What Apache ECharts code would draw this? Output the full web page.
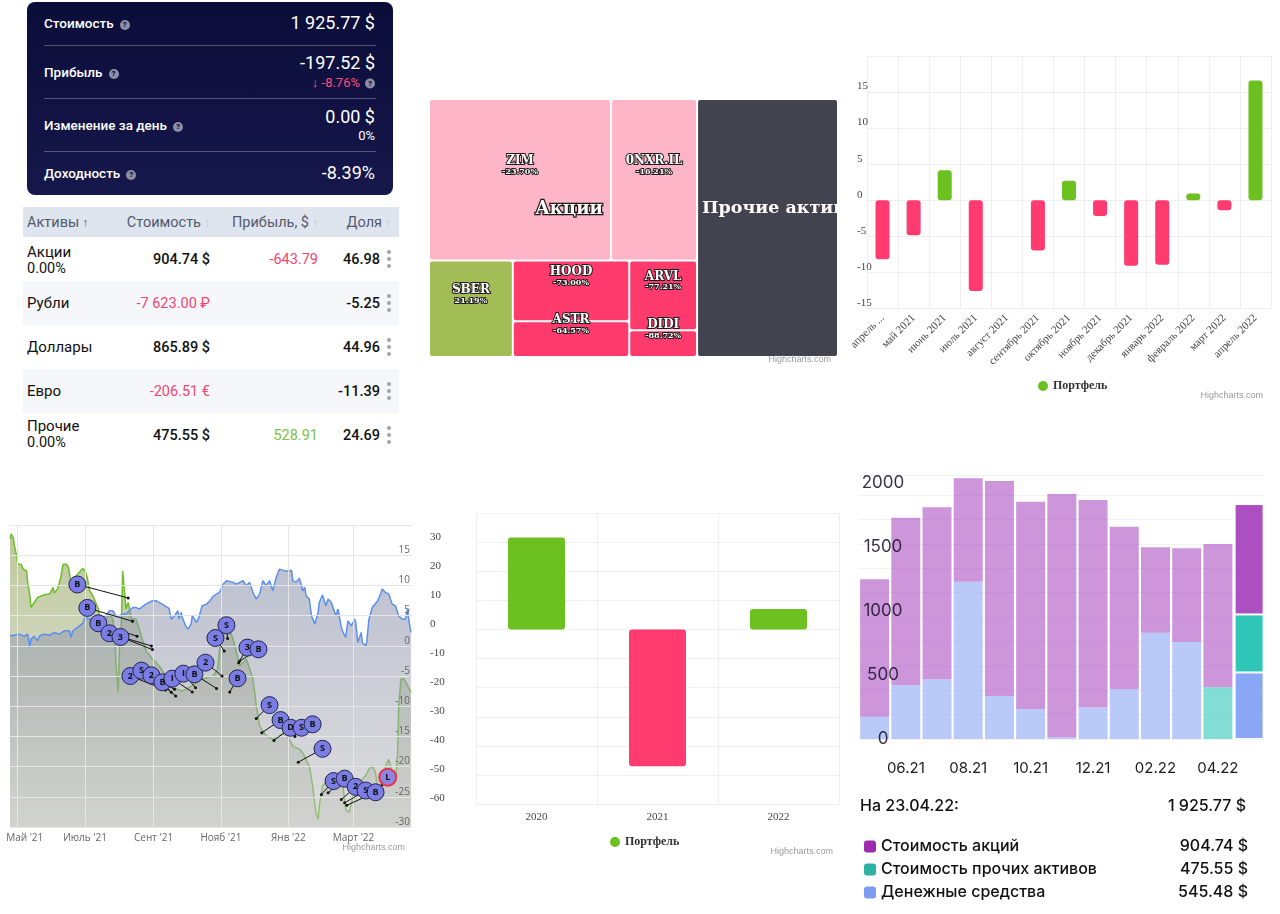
<!DOCTYPE html>
<html>
<head>
<meta charset="utf-8">
<script src="https://cdn.jsdelivr.net/npm/echarts@6/dist/echarts.min.js"></script>
<style>
html,body{margin:0;padding:0;background:#fff;width:1280px;height:914px;overflow:hidden;font-family:Roboto,"Noto Sans",sans-serif;}
#chart{position:absolute;left:0;top:0;width:1280px;height:914px;z-index:2;}
.card{position:absolute;left:27px;top:2px;width:366px;height:193px;border-radius:8px;background:linear-gradient(180deg,#0b0d39 0%,#16174b 100%);color:#fff;z-index:1;}
.card .lbl{position:absolute;left:17px;transform:translateY(-50%);font-size:13.5px;font-weight:500;line-height:16px;white-space:nowrap;}
.card .val{position:absolute;right:18px;transform:translateY(-50%);font-size:18px;line-height:20px;white-space:nowrap;}
.card .sub{position:absolute;right:18px;transform:translateY(-50%);font-size:13px;line-height:15px;white-space:nowrap;}
.card .sep{position:absolute;left:17px;right:17px;height:1px;background:rgba(255,255,255,0.28);}
.q{display:inline-block;width:10px;height:10px;border-radius:50%;background:#8c8fa6;color:#12143f;font-size:8px;font-weight:900;line-height:10px;text-align:center;margin-left:6px;vertical-align:1px;font-style:normal;}
.pink{color:#ff4d7f;}
.tbl{position:absolute;left:0;top:0;width:420px;height:470px;z-index:1;color:#111;}
.thead{position:absolute;left:23px;top:207px;width:376px;height:30px;background:#dfe5ef;}
.shade{position:absolute;left:23px;width:376px;height:44px;background:#f6f7fa;}
.h{position:absolute;top:222px;transform:translateY(-50%);font-size:14.5px;color:#535a6c;white-space:nowrap;}
.arr{color:#c3c9d4;font-size:12px;margin-left:3px;}
.arr.on{color:#535a6c;}
.nm{position:absolute;left:27px;transform:translateY(-50%);font-size:15px;line-height:17px;white-space:nowrap;}
.num{position:absolute;transform:translateY(-50%);font-size:14.5px;font-weight:500;white-space:nowrap;text-align:right;}
.neg{color:#f4456f;font-weight:400;}
.pos{color:#7cc242;font-weight:400;}
.keb{position:absolute;left:387px;width:4px;}
.keb i{display:block;width:4px;height:4px;border-radius:50%;background:#9fa4ae;margin-bottom:3px;}
</style>
</head>
<body>
<div class="card">
  <div class="lbl" style="top:21px">Стоимость<i class="q">?</i></div>
  <div class="val" style="top:21px">1 925.77 $</div>
  <div class="sep" style="top:43px"></div>
  <div class="lbl" style="top:70px">Прибыль<i class="q">?</i></div>
  <div class="val" style="top:61px">-197.52 $</div>
  <div class="sub" style="top:80px"><span class="pink">↓ -8.76%</span><i class="q" style="margin-left:5px">?</i></div>
  <div class="sep" style="top:96px"></div>
  <div class="lbl" style="top:123px">Изменение за день<i class="q">?</i></div>
  <div class="val" style="top:115px">0.00 $</div>
  <div class="sub" style="top:133px">0%</div>
  <div class="sep" style="top:149px"></div>
  <div class="lbl" style="top:171px">Доходность<i class="q">?</i></div>
  <div class="val" style="top:171px">-8.39%</div>
</div>

<div class="tbl">
  <div class="thead"></div>
  <div class="shade" style="top:281px"></div>
  <div class="shade" style="top:369px"></div>
  <div class="h" style="left:27px">Активы<span class="arr on">↑</span></div>
  <div class="h" style="right:210px">Стоимость<span class="arr">↑</span></div>
  <div class="h" style="right:102px">Прибыль, $<span class="arr">↑</span></div>
  <div class="h" style="right:29px">Доля<span class="arr">↑</span></div>

  <div class="nm" style="top:252px">Акции</div>
  <div class="nm" style="top:268px;font-size:14.5px">0.00%</div>
  <div class="num" style="top:259px;right:210px">904.74 $</div>
  <div class="num neg" style="top:259px;right:102px">-643.79</div>
  <div class="num" style="top:259px;right:40px">46.98</div>
  <div class="keb" style="top:250px"><i></i><i></i><i></i></div>

  <div class="nm" style="top:303px">Рубли</div>
  <div class="num neg" style="top:303px;right:210px">-7 623.00 ₽</div>
  <div class="num" style="top:303px;right:40px">-5.25</div>
  <div class="keb" style="top:294px"><i></i><i></i><i></i></div>

  <div class="nm" style="top:347px">Доллары</div>
  <div class="num" style="top:347px;right:210px">865.89 $</div>
  <div class="num" style="top:347px;right:40px">44.96</div>
  <div class="keb" style="top:338px"><i></i><i></i><i></i></div>

  <div class="nm" style="top:391px">Евро</div>
  <div class="num neg" style="top:391px;right:210px">-206.51 €</div>
  <div class="num" style="top:391px;right:40px">-11.39</div>
  <div class="keb" style="top:382px"><i></i><i></i><i></i></div>

  <div class="nm" style="top:426px">Прочие</div>
  <div class="nm" style="top:442px;font-size:14.5px">0.00%</div>
  <div class="num" style="top:435px;right:210px">475.55 $</div>
  <div class="num pos" style="top:435px;right:102px">528.91</div>
  <div class="num" style="top:435px;right:40px">24.69</div>
  <div class="keb" style="top:426px"><i></i><i></i><i></i></div>
</div>

<div id="chart"></div>
<script>
// ---------------- DATA ----------------
// Treemap (portfolio structure)
const stocksGroupName = 'Акции';
const otherAssetsName = 'Прочие активы';
const otherAssetsValue = 475.55;
const treeNames   = ['ZIM', '0NXR.IL', 'SBER', 'HOOD', 'ASTR', 'ARVL', 'DIDI'];
const treeValues  = [384.7, 181.7, 105.8, 92.3, 54.6, 61.9, 23.7];
const treeChanges = [-23.70, -16.21, 21.19, -73.00, -64.57, -77.21, -88.72];

// Monthly returns
const monthCategories = ['апрель 2021','май 2021','июнь 2021','июль 2021','август 2021','сентябрь 2021','октябрь 2021','ноябрь 2021','декабрь 2021','январь 2022','февраль 2022','март 2022','апрель 2022'];
const monthReturns = [-8.2, -4.85, 4.15, -12.6, 0, -6.97, 2.68, -2.2, -9.1, -8.96, 0.92, -1.39, 16.6];

// Yearly returns
const yearCategories = ['2020', '2021', '2022'];
const yearReturns = [31.7, -47.0, 7.1];

// Portfolio vs benchmark (percent)
const lineStart = '2021-04-24', lineEnd = '2022-04-23';
const lineTickDates  = ['2021-05-01','2021-07-01','2021-09-01','2021-11-01','2022-01-01','2022-03-01'];
const lineTickLabels = ["Май '21","Июль '21","Сент '21","Нояб '21","Янв '22","Март '22"];
const blueSeries = [['2021-04-24',1.66],['2021-05-03',1.93],['2021-05-07',1.55],['2021-05-10',1.93],['2021-05-12',-0.28],['2021-05-13',1.1],['2021-05-16',1.55],['2021-05-19',0.83],['2021-05-21',1.66],['2021-05-25',1.93],['2021-05-30',1.77],['2021-06-03',2.21],['2021-06-08',1.93],['2021-06-12',2.49],['2021-06-17',2.49],['2021-06-18',1.38],['2021-06-20',2.49],['2021-06-26',3.31],['2021-06-29',3.76],['2021-07-01',4.7],['2021-07-05',4.42],['2021-07-09',4.42],['2021-07-14',4.53],['2021-07-20',4.97],['2021-07-23',5.8],['2021-07-26',5.8],['2021-07-29',4.97],['2021-08-01',4.97],['2021-08-04',5.25],['2021-08-07',5.25],['2021-08-13',6.35],['2021-08-16',6.35],['2021-08-19',6.08],['2021-08-25',6.9],['2021-08-31',7.46],['2021-09-03',7.46],['2021-09-06',7.18],['2021-09-09',6.9],['2021-09-12',6.52],['2021-09-15',6.2],['2021-09-17',4.42],['2021-09-18',4.14],['2021-09-20',4.97],['2021-09-23',5.8],['2021-09-24',4.42],['2021-09-26',5.52],['2021-09-27',4.7],['2021-09-30',3.31],['2021-10-02',2.76],['2021-10-05',3.59],['2021-10-06',4.97],['2021-10-10',3.87],['2021-10-12',4.7],['2021-10-15',6.63],['2021-10-19',6.9],['2021-10-22',7.46],['2021-10-25',8.18],['2021-10-31',8.95],['2021-11-03',10.2],['2021-11-06',10.77],['2021-11-12',10.5],['2021-11-15',10.22],['2021-11-21',10.77],['2021-11-24',9.94],['2021-11-27',10.5],['2021-11-30',8.84],['2021-12-03',7.73],['2021-12-06',8.56],['2021-12-09',10.77],['2021-12-12',9.94],['2021-12-15',10.77],['2021-12-18',9.12],['2021-12-21',11.3],['2021-12-24',12.7],['2021-12-29',12.4],['2022-01-02',12.4],['2022-01-04',12.5],['2022-01-05',10.8],['2022-01-08',10.5],['2022-01-11',11.2],['2022-01-13',9.94],['2022-01-14',9.12],['2022-01-16',9.67],['2022-01-17',8.29],['2022-01-20',7.73],['2022-01-22',4.97],['2022-01-25',3.59],['2022-01-26',3.31],['2022-01-28',5.52],['2022-01-29',7.18],['2022-02-01',8.4],['2022-02-04',6.63],['2022-02-06',7.73],['2022-02-09',7.18],['2022-02-10',7.46],['2022-02-13',4.97],['2022-02-15',6.08],['2022-02-18',3.04],['2022-02-19',2.49],['2022-02-22',1.38],['2022-02-24',4.14],['2022-02-27',3.31],['2022-03-02',4.42],['2022-03-03',3.87],['2022-03-05',0.55],['2022-03-08',2.21],['2022-03-09',0.55],['2022-03-12',0],['2022-03-13',0.55],['2022-03-15',4.42],['2022-03-18',6.35],['2022-03-23',7.46],['2022-03-26',8.84],['2022-03-27',9.39],['2022-03-30',8.84],['2022-04-02',8.56],['2022-04-05',6.9],['2022-04-08',6.63],['2022-04-11',4.97],['2022-04-14',4.42],['2022-04-17',4.42],['2022-04-19',6.08],['2022-04-20',4.42],['2022-04-22',2.21]];
const greenSeries = [['2021-04-24',17.7],['2021-04-25',18.5],['2021-04-27',17.9],['2021-04-28',16.6],['2021-04-30',14.9],['2021-05-01',13.5],['2021-05-04',13.5],['2021-05-06',12.7],['2021-05-09',12.4],['2021-05-10',10.5],['2021-05-12',8.29],['2021-05-13',6.35],['2021-05-15',6.9],['2021-05-19',8.0],['2021-05-24',8.4],['2021-05-30',8.56],['2021-06-02',9.67],['2021-06-03',8.73],['2021-06-06',9.39],['2021-06-09',11.3],['2021-06-11',13.5],['2021-06-14',13.5],['2021-06-16',12.97],['2021-06-18',10.5],['2021-06-23',11.6],['2021-06-29',12.8],['2021-07-01',12.4],['2021-07-03',11.3],['2021-07-05',9.12],['2021-07-08',8.29],['2021-07-13',6.08],['2021-07-14',4.97],['2021-07-20',4.42],['2021-07-23',5.25],['2021-07-26',4.42],['2021-07-28',2.21],['2021-07-29',-3.31],['2021-07-31',-7.7],['2021-08-01',-1.1],['2021-08-03',4.42],['2021-08-04',12.4],['2021-08-05',12.2],['2021-08-07',6.08],['2021-08-09',7.18],['2021-08-12',4.42],['2021-08-16',4.42],['2021-08-19',2.76],['2021-08-25',-0.8],['2021-08-31',-2.2],['2021-09-06',-3.3],['2021-09-11',-4.7],['2021-09-18',-6.9],['2021-09-27',-7.5],['2021-10-06',-6.6],['2021-10-15',-5.5],['2021-10-25',-5.0],['2021-10-29',-3.9],['2021-11-01',1.7],['2021-11-04',3.0],['2021-11-09',2.5],['2021-11-12',1.1],['2021-11-15',-1.1],['2021-11-18',-3.3],['2021-11-24',-2.2],['2021-11-30',-5.5],['2021-12-03',-9.9],['2021-12-06',-13.3],['2021-12-12',-14.9],['2021-12-18',-15.5],['2021-12-24',-14.9],['2021-12-29',-14.4],['2022-01-02',-15.5],['2022-01-05',-16.6],['2022-01-11',-17.1],['2022-01-14',-17.7],['2022-01-17',-18.8],['2022-01-20',-19.9],['2022-01-23',-23.2],['2022-01-26',-27.6],['2022-01-28',-28.7],['2022-01-29',-26.5],['2022-02-01',-23.2],['2022-02-04',-22.6],['2022-02-07',-22.1],['2022-02-10',-22.6],['2022-02-13',-21.5],['2022-02-16',-22.6],['2022-02-19',-22.6],['2022-02-22',-27.1],['2022-02-25',-27.6],['2022-02-28',-25.4],['2022-03-03',-23.2],['2022-03-06',-22.6],['2022-03-09',-22.1],['2022-03-12',-21.5],['2022-03-15',-20.4],['2022-03-18',-19.9],['2022-03-21',-21.0],['2022-03-24',-25.4],['2022-03-27',-23.8],['2022-03-30',-19.9],['2022-04-02',-18.8],['2022-04-05',-21.0],['2022-04-08',-22.6],['2022-04-10',-17.7],['2022-04-11',-9.9],['2022-04-13',-5.5],['2022-04-16',-5.5],['2022-04-19',-6.6],['2022-04-22',-7.7]];
// Trade flags: [letter, flag date, flag level, trade date, trade level]
const tradeFlags = [
 ['B','2021-06-24',10.15,'2021-08-09',7.93],['B','2021-07-03',6.27,'2021-08-13',4.06],['B','2021-07-13',3.73,'2021-08-17',1.58],
 ['2','2021-07-23',2.07,'2021-08-30',-0.03],['3','2021-08-02',1.46,'2021-08-31',-0.63],['2','2021-08-11',-5.0,'2021-09-12',-7.33],
 ['S','2021-08-21',-4.11,'2021-09-20',-7.21],['2','2021-08-30',-4.89,'2021-09-21',-8.33],['B','2021-09-09',-6.05,'2021-09-17',-7.71],
 ['I','2021-09-18',-5.44,'2021-10-06',-7.66],['I','2021-09-28',-4.61,'2021-10-09',-6.93],['B','2021-10-08',-4.73,'2021-10-28',-7.05],
 ['2','2021-10-18',-2.79,'2021-11-02',-5.0],['S','2021-10-27',1.29,'2021-11-04',-0.86],['S','2021-11-06',3.4,'2021-11-07',1.19],
 ['B','2021-11-16',-5.39,'2021-11-09',-7.66],['3','2021-11-25',-0.3,'2021-11-17',-2.79],['B','2021-12-05',-0.58,'2021-11-18',-2.52],
 ['S','2021-12-15',-9.82,'2021-12-03',-12.02],['B','2021-12-25',-12.3,'2021-12-08',-14.4],['D','2022-01-03',-13.57,'2021-12-19',-15.67],
 ['S','2022-01-13',-13.57,'2022-01-07',-15.0],['B','2022-01-23',-13.0,'2022-01-11',-14.7],['S','2022-02-01',-17.05,'2022-01-10',-19.27],
 ['S','2022-02-11',-22.4,'2022-01-31',-24.6],['B','2022-02-21',-22.0,'2022-02-06',-24.35],['2','2022-03-03',-23.35,'2022-02-18',-25.46],
 ['S','2022-03-12',-23.96,'2022-02-21',-26.0],['B','2022-03-21',-24.25,'2022-02-23',-26.4],['L','2022-04-01',-21.76,'2022-03-27',-22.97]
];

// Portfolio value history (stacked, $)
const stackCategories = ['05.21','06.21','07.21','08.21','09.21','10.21','11.21','12.21','01.22','02.22','03.22','04.22','23.04.22'];
const stackCash   = [183, 443, 489, 1289, 352, 246, 14, 260, 410, 871, 795, 0, 545.48];
const stackOther  = [0, 0, 0, 0, 0, 0, 0, 0, 0, 0, 0, 424, 475.55];
const stackStocks = [1126, 1371, 1410, 848, 1763, 1699, 1994, 1699, 1330, 700, 768, 1174, 904.74];
const stackNames  = ['Стоимость акций', 'Стоимость прочих активов', 'Денежные средства'];
const summaryDate = '23.04.22';
const summaryTotal = '1 925.77 $';

// ---------------- CHART ----------------
const GREEN = '#6cc01f', RED = '#ff3b6f';
const ts = s => { const p = s.split('-').map(Number); return new Date(p[0], p[1] - 1, p[2]).getTime(); };
const chart = echarts.init(document.getElementById('chart'), null, {width: 1280, height: 914});

const treeColor = c => c > 0 ? '#a3bd56' : (c > -50 ? '#ffb5c8' : '#ff3b6d');
// labels are shifted vertically using the cell heights the library computed
function buildTree(heights) {
  const hOf = n => (heights && heights[n] != null) ? heights[n] : 0;
  const leaf = i => ({name: treeNames[i], value: treeValues[i], change: treeChanges[i],
    itemStyle: {color: treeColor(treeChanges[i]), borderRadius: 2},
    label: {offset: [0, hOf(treeNames[i]) / 2 - 25]}});
  return [
    {name: stocksGroupName, children: [
      {name: ' ', children: [leaf(0), leaf(1)]},
      {name: ' ', children: [leaf(2), {name: ' ', children: [leaf(3), leaf(4), leaf(5), leaf(6)]}]}
    ]},
    {name: otherAssetsName, value: otherAssetsValue, itemStyle: {color: '#41434f', borderRadius: 2},
      label: {position: 'insideLeft', distance: 4, offset: [0, hOf(otherAssetsName) / 2 - 30], align: 'left',
        overflow: 'none', formatter: '{big|{b}}'}}
  ];
}
const lvl = {itemStyle: {borderWidth: 0, gapWidth: 2, borderColor: '#fff'}};

const serif = 'Liberation Serif';
const tickTs = lineTickDates.map(ts);
const lastIdx = stackCategories.length - 1;
const stackItem = (vals) => vals.map((v, i) => ({value: v,
  itemStyle: i === lastIdx ? {opacity: 1, borderColor: '#fff', borderWidth: 1} : {opacity: 0.6}}));
const legendVals = {};
legendVals[stackNames[0]] = stackStocks[lastIdx].toFixed(2) + ' $';
legendVals[stackNames[1]] = stackOther[lastIdx].toFixed(2) + ' $';
legendVals[stackNames[2]] = stackCash[lastIdx].toFixed(2) + ' $';

const credit = (x, y) => ({type: 'text', x: x, y: y, z: 50,
  style: {text: 'Highcharts.com', font: '9px "Liberation Sans"', fill: '#9a9a9a', align: 'right', verticalAlign: 'middle'}});

const option = {
  backgroundColor: 'transparent',
  animation: false,
  grid: [
    {left: 867, right: 9, top: 56, bottom: 605.7, outerBoundsMode: 'none'},
    {left: 10, right: 868, top: 525, bottom: 87, outerBoundsMode: 'none'},
    {left: 476, right: 441, top: 513.3, bottom: 110, outerBoundsMode: 'none'},
    {left: 859, right: 15.3, top: 475, bottom: 175, outerBoundsMode: 'none'}
  ],
  xAxis: [
    {gridIndex: 0, type: 'category', data: monthCategories, boundaryGap: true,
      axisLine: {show: false, onZero: false}, axisTick: {show: false},
      splitLine: {show: true, lineStyle: {color: '#efefef'}},
      axisLabel: {rotate: 45, interval: 0, fontFamily: serif, fontSize: 11, color: '#444', margin: 8,
        formatter: (v, i) => i === 0 ? 'апрель ...' : v}},
    {gridIndex: 1, type: 'value', min: ts(lineStart), max: ts(lineEnd), z: 3,
      axisLine: {show: false, onZero: false}, axisTick: {show: false, customValues: tickTs},
      splitLine: {show: true, lineStyle: {color: '#e6e6e6'}},
      axisLabel: {customValues: tickTs, margin: 6, fontFamily: 'Open Sans', fontSize: 10, color: '#666',
        formatter: v => { const i = tickTs.indexOf(v); return i === 0 ? '{f|' + lineTickLabels[i] + '}' : (lineTickLabels[i] || ''); },
        rich: {f: {padding: [0, 0, 0, 14], fontFamily: 'Open Sans', fontSize: 10, color: '#666'}}}},
    {gridIndex: 2, type: 'category', data: yearCategories, boundaryGap: true,
      axisLine: {show: false, onZero: false}, axisTick: {show: false},
      splitLine: {show: true, lineStyle: {color: '#efefef'}},
      axisLabel: {fontFamily: serif, fontSize: 11, color: '#444', margin: 8}},
    {gridIndex: 3, type: 'category', data: stackCategories, boundaryGap: true,
      axisLine: {show: false, onZero: false}, axisTick: {show: false}, splitLine: {show: false},
      axisLabel: {interval: i => i % 2 === 1, fontFamily: 'Inter', fontSize: 15, color: '#1b1b1b', margin: 22}}
  ],
  yAxis: [
    {gridIndex: 0, type: 'value', min: -15, max: 20, interval: 5,
      axisLine: {show: false}, axisTick: {show: false},
      splitLine: {lineStyle: {color: '#efefef'}},
      axisLabel: {showMaxLabel: false, align: 'left', margin: 10, verticalAlign: 'bottom', fontFamily: serif, fontSize: 11, color: '#444'}},
    {gridIndex: 1, type: 'value', position: 'right', min: -30, max: 20, interval: 5, z: 3,
      axisLine: {show: false}, axisTick: {show: false},
      splitLine: {lineStyle: {color: '#e6e6e6'}},
      axisLabel: {inside: true, showMaxLabel: false, margin: 2, verticalAlign: 'bottom', fontFamily: 'Open Sans', fontSize: 10, color: '#666'}},
    {gridIndex: 2, type: 'value', min: -60, max: 40, interval: 10,
      axisLine: {show: false}, axisTick: {show: false},
      splitLine: {lineStyle: {color: '#efefef'}},
      axisLabel: {showMaxLabel: false, align: 'left', margin: 46, verticalAlign: 'bottom', fontFamily: serif, fontSize: 11, color: '#444'}},
    {gridIndex: 3, type: 'value', position: 'left', min: 0, max: 2164, interval: 200,
      axisLine: {show: false}, axisTick: {show: false}, axisLabel: {show: false},
      splitLine: {show: true, lineStyle: {color: '#f2f2f4'}}},
    {gridIndex: 3, type: 'value', position: 'left', offset: 0, min: 0, max: 2062.5, interval: 500, z: 10,
      axisLine: {show: false}, axisTick: {show: false}, splitLine: {show: false},
      axisLabel: {inside: true, align: 'center', margin: 24, showMaxLabel: false, fontFamily: 'Inter', fontSize: 17,
        color: 'rgba(25,18,45,0.88)', formatter: v => String(v)}}
  ],
  legend: [
    {data: ['Портфель'], left: 1033, top: 375, icon: 'circle', itemWidth: 10, itemHeight: 10, selectedMode: false,
      textStyle: {fontFamily: serif, fontWeight: 'bold', fontSize: 12, color: '#333'}},
    {data: ['Портфель'], left: 605, top: 831, icon: 'circle', itemWidth: 10, itemHeight: 10, selectedMode: false,
      textStyle: {fontFamily: serif, fontWeight: 'bold', fontSize: 12, color: '#333'}},
    {data: [{name: stackNames[0], itemStyle: {color: '#9b2cb0'}}, {name: stackNames[1], itemStyle: {color: '#2ab3a0'}}, {name: stackNames[2], itemStyle: {color: '#7d9cf0'}}],
      orient: 'vertical', left: 859, top: 832, itemWidth: 12, itemHeight: 12, icon: 'roundRect', itemGap: 4, selectedMode: false,
      formatter: n => '{n|' + n + '}{v|' + legendVals[n] + '}',
      textStyle: {lineHeight: 19, rich: {
        n: {width: 288, fontFamily: 'Inter', fontSize: 16, fontWeight: 500, color: '#111'},
        v: {width: 79, align: 'right', fontFamily: 'Inter', fontSize: 16, fontWeight: 500, color: '#111'}}}}
  ],
  graphic: [
    {type: 'text', x: 569, y: 209, z: 60, style: {text: stocksGroupName, font: 'bold 18px "DejaVu Serif"', fill: '#fff', stroke: '#1b1b1b', lineWidth: 2.5, align: 'center', verticalAlign: 'middle'}},
    credit(831, 360), credit(1263, 396), credit(405, 848), credit(833, 852),
    {type: 'text', x: 860, y: 806, z: 50, style: {text: 'На ' + summaryDate + ':', font: '500 16px Inter', fill: '#111', verticalAlign: 'middle'}},
    {type: 'text', x: 1246, y: 806, z: 50, style: {text: summaryTotal, font: '500 16px Inter', fill: '#111', align: 'right', verticalAlign: 'middle'}}
  ],
  series: [
    {type: 'treemap', left: 430, top: 100, width: 407, height: 256, roam: false, nodeClick: false, sort: false,
      breadcrumb: {show: false}, visibleMin: 0, levels: [lvl, lvl, lvl, lvl, lvl],
      label: {show: true, position: ['50%', '50%'], align: 'center', verticalAlign: 'middle', padding: 0, overflow: 'none',
        formatter: p => p.data.change == null ? '' : '{n|' + p.name + '}\n{p|' + p.data.change.toFixed(2) + '%}',
        rich: {
          n: {fontFamily: 'DejaVu Serif', fontWeight: 'bold', fontSize: 12, color: '#fff', textBorderColor: '#1b1b1b', textBorderWidth: 2, lineHeight: 12},
          p: {fontFamily: 'DejaVu Serif', fontWeight: 'bold', fontSize: 8, color: '#fff', textBorderColor: '#1b1b1b', textBorderWidth: 2, lineHeight: 10},
          big: {fontFamily: 'DejaVu Serif', fontWeight: 'bold', fontSize: 17.5, color: '#fff', lineHeight: 20}
        }},
      data: buildTree(null)},
    {type: 'bar', name: 'Портфель', xAxisIndex: 0, yAxisIndex: 0, barWidth: 14,
      itemStyle: {color: GREEN, borderRadius: 3},
      data: monthReturns.map(v => ({value: v, itemStyle: {color: v >= 0 ? GREEN : RED}}))},
    {type: 'line', name: 'Бенчмарк', xAxisIndex: 1, yAxisIndex: 1, symbol: 'none', z: 1,
      lineStyle: {color: '#6cbf2a', width: 1.5},
      areaStyle: {origin: 'start', color: {type: 'linear', x: 0, y: 0, x2: 0, y2: 1,
        colorStops: [{offset: 0, color: 'rgba(125,145,55,0.72)'}, {offset: 1, color: 'rgba(140,150,115,0.3)'}]}},
      data: greenSeries.map(d => [ts(d[0]), d[1]])},
    {type: 'line', name: 'Портфель %', xAxisIndex: 1, yAxisIndex: 1, symbol: 'none', z: 2,
      lineStyle: {color: '#5a8ff0', width: 1.5},
      areaStyle: {origin: 'start', color: {type: 'linear', x: 0, y: 0, x2: 0, y2: 1,
        colorStops: [{offset: 0, color: 'rgba(128,136,164,0.74)'}, {offset: 1, color: 'rgba(190,190,190,0.74)'}]}},
      data: blueSeries.map(d => [ts(d[0]), d[1]])},
    {type: 'lines', coordinateSystem: 'cartesian2d', xAxisIndex: 1, yAxisIndex: 1, z: 4,
      lineStyle: {width: 1, opacity: 1},
      data: tradeFlags.map(f => ({coords: [[ts(f[1]), f[2]], [ts(f[3]), f[4]]],
        lineStyle: {color: f[0] === 'L' ? '#e8344e' : '#111'}}))},
    {type: 'scatter', xAxisIndex: 1, yAxisIndex: 1, z: 4, symbolSize: 3, itemStyle: {color: '#111', opacity: 1},
      data: tradeFlags.map(f => [ts(f[3]), f[4]])},
    {type: 'scatter', xAxisIndex: 1, yAxisIndex: 1, z: 5, symbolSize: 17,
      itemStyle: {color: '#7a7ee4', borderColor: '#22224a', borderWidth: 1, opacity: 1},
      label: {show: true, position: 'inside', formatter: p => p.data.letter, fontSize: 9, fontWeight: 'bold', color: '#111', fontFamily: 'Open Sans'},
      data: tradeFlags.map(f => ({value: [ts(f[1]), f[2]], letter: f[0],
        itemStyle: f[0] === 'L' ? {borderColor: '#e8344e', borderWidth: 2, color: '#8c86e0'} : {}}))},
    {type: 'bar', name: 'Портфель', xAxisIndex: 2, yAxisIndex: 2, barWidth: 57,
      itemStyle: {color: GREEN, borderRadius: 3},
      data: yearReturns.map(v => ({value: v, itemStyle: {color: v >= 0 ? GREEN : RED}}))},
    {type: 'bar', name: stackNames[2], xAxisIndex: 3, yAxisIndex: 3, stack: 'total', barWidth: 29,
      itemStyle: {color: '#8aa7f5'}, data: stackItem(stackCash)},
    {type: 'bar', name: stackNames[1], xAxisIndex: 3, yAxisIndex: 3, stack: 'total', barWidth: 29,
      itemStyle: {color: '#2fc6b8'}, data: stackItem(stackOther)},
    {type: 'bar', name: stackNames[0], xAxisIndex: 3, yAxisIndex: 3, stack: 'total', barWidth: 29,
      itemStyle: {color: '#ab4fc1'}, data: stackItem(stackStocks)}
  ]
};
chart.setOption(option);

// Vertically place the treemap labels using the library's own computed cell layout
try {
  const tm = chart.getModel().getSeriesByType('treemap')[0];
  const heights = {};
  tm.getData().tree.root.eachNode(n => {
    const l = n.getLayout();
    if (l && (!n.children || n.children.length === 0)) heights[n.name] = l.height;
  });
  chart.setOption({series: [{data: buildTree(heights)}]});
} catch (e) { console.log(e); }
</script>
</body>
</html>
